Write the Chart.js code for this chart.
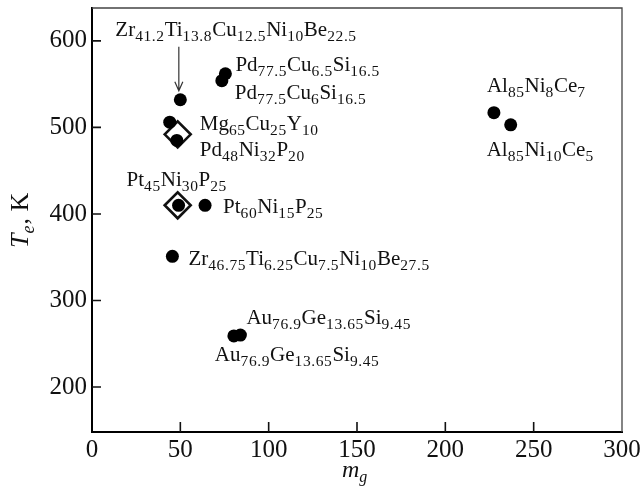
<!DOCTYPE html>
<html>
<head>
<meta charset="utf-8">
<script src="https://cdn.jsdelivr.net/npm/chart.js@4.4.1/dist/chart.umd.min.js"></script>
<style>
  html, body { margin: 0; padding: 0; background: #fff; }
  #wrap { width: 640px; height: 490px; }
</style>
</head>
<body>
<div id="wrap"><canvas id="glassChart" width="640" height="490"></canvas></div>
<script>
// alloys (filled circles): fragility m_g vs T_e
const alloys = [
  'Zr41.2Ti13.8Cu12.5Ni10Be22.5',
  'Pd77.5Cu6.5Si16.5',
  'Pd77.5Cu6Si16.5',
  'Mg65Cu25Y10',
  'Pd48Ni32P20',
  'Pt45Ni30P25',
  'Pt60Ni15P25',
  'Zr46.75Ti6.25Cu7.5Ni10Be27.5',
  'Au76.9Ge13.65Si9.45',
  'Au76.9Ge13.65Si9.45',
  'Al85Ni8Ce7',
  'Al85Ni10Ce5'
];
const massValues = [50, 75.5, 73.5, 44, 48, 49, 64, 45.5, 84, 80.3, 227.5, 237];
const tempValues = [532, 562, 554, 506, 485, 410, 410, 351, 260, 259, 517, 503];

// open diamonds
const diamondMass = [48.5, 48.5];
const diamondTemp = [492, 410];

const xTicks = [0, 50, 100, 150, 200, 250, 300];
const yTicks = [200, 300, 400, 500, 600];

// label placement: pixel offset from the point to the label's left baseline
const labelOffsets = [
  [-65, -64], [10, -3], [13, 18], [30, 8], [23, 16], [-52, -19],
  [18, 8], [16, 9], [6, -11], [-19, 25], [-7, -21], [-24, 31]
];

const serif = "'Liberation Serif', 'Times New Roman', serif";
Chart.defaults.font.family = serif;
Chart.defaults.color = '#111';

function drawFormula(ctx, text, x, y, mainSize, subSize) {
  const parts = text.match(/[A-Z][a-z]?[\d.]*/g);
  let cx = x;
  ctx.textBaseline = 'alphabetic';
  ctx.textAlign = 'left';
  parts.forEach(p => {
    const m = p.match(/([A-Z][a-z]?)([\d.]*)/);
    ctx.font = mainSize + 'px ' + serif;
    ctx.fillText(m[1], cx, y);
    cx += ctx.measureText(m[1]).width;
    if (m[2]) {
      ctx.font = subSize + 'px ' + serif;
      for (const ch of m[2]) {
        ctx.fillText(ch, cx, y + 5);
        cx += ctx.measureText(ch).width + 0.6;
      }
    }
  });
}

const decorations = {
  id: 'decorations',
  afterDraw(chart) {
    const ctx = chart.ctx;
    const xs = chart.scales.x, ys = chart.scales.y;
    const a = chart.chartArea;
    ctx.save();

    // top and right frame
    ctx.strokeStyle = '#444';
    ctx.lineWidth = 1.3;
    ctx.beginPath();
    ctx.moveTo(a.left, a.top);
    ctx.lineTo(a.right, a.top);
    ctx.lineTo(a.right, a.bottom);
    ctx.stroke();

    // inward tick marks
    ctx.strokeStyle = '#111';
    ctx.lineWidth = 1.6;
    ctx.beginPath();
    xTicks.slice(1, -1).forEach(v => {
      const px = xs.getPixelForValue(v);
      ctx.moveTo(px, a.bottom);
      ctx.lineTo(px, a.bottom - 10);
    });
    yTicks.forEach(v => {
      const py = ys.getPixelForValue(v);
      ctx.moveTo(a.left, py);
      ctx.lineTo(a.left + 9, py);
    });
    ctx.stroke();

    // formula labels
    ctx.fillStyle = '#111';
    alloys.forEach((name, i) => {
      const px = xs.getPixelForValue(massValues[i]);
      const py = ys.getPixelForValue(tempValues[i]);
      drawFormula(ctx, name, px + labelOffsets[i][0], py + labelOffsets[i][1], 21, 15.5);
    });

    // arrow to the first alloy
    const ax = xs.getPixelForValue(massValues[0]) - 1.5;
    const ay = ys.getPixelForValue(tempValues[0]);
    ctx.strokeStyle = '#333';
    ctx.lineWidth = 1.2;
    ctx.beginPath();
    ctx.moveTo(ax, ay - 53);
    ctx.lineTo(ax, ay - 9);
    ctx.moveTo(ax - 4, ay - 18);
    ctx.lineTo(ax, ay - 9);
    ctx.lineTo(ax + 4, ay - 18);
    ctx.stroke();

    // y axis title: T_e, K
    ctx.save();
    ctx.translate(28, 248);
    ctx.rotate(-Math.PI / 2);
    ctx.textBaseline = 'alphabetic';
    ctx.textAlign = 'left';
    let tx = 0;
    ctx.font = 'italic 26px ' + serif;
    ctx.fillText('T', tx, 0);
    tx += ctx.measureText('T').width;
    ctx.font = 'italic 18px ' + serif;
    ctx.fillText('e', tx, 6);
    tx += ctx.measureText('e').width + 1;
    ctx.font = '26px ' + serif;
    ctx.fillText(', K', tx, 0);
    ctx.restore();

    // x axis title: m_g
    ctx.font = 'italic 24px ' + serif;
    ctx.textBaseline = 'alphabetic';
    ctx.textAlign = 'left';
    ctx.fillText('m', 342, 477);
    const mw = ctx.measureText('m').width;
    ctx.font = 'italic 16px ' + serif;
    ctx.fillText('g', 342 + mw, 482);

    ctx.restore();
  }
};

new Chart(document.getElementById('glassChart').getContext('2d'), {
  type: 'scatter',
  data: {
    datasets: [
      {
        label: 'open',
        data: diamondMass.map((m, i) => ({ x: m, y: diamondTemp[i] })),
        pointStyle: 'rectRot',
        pointRadius: 13,
        borderColor: '#111',
        borderWidth: 2.6,
        backgroundColor: 'rgba(255,255,255,0)',
        order: 2
      },
      {
        label: 'alloys',
        data: massValues.map((m, i) => ({ x: m, y: tempValues[i] })),
        pointStyle: 'circle',
        pointRadius: 6.5,
        borderWidth: 0,
        backgroundColor: '#000',
        order: 1
      }
    ]
  },
  options: {
    responsive: false,
    animation: false,
    layout: { autoPadding: false, padding: { top: 8, right: 18, left: 0, bottom: 0 } },
    plugins: { legend: { display: false }, tooltip: { enabled: false } },
    scales: {
      x: {
        type: 'linear',
        min: 0,
        max: 300,
        border: { color: '#000', width: 2 },
        grid: { display: false, drawTicks: false },
        ticks: { font: { size: 25 }, padding: 3, color: '#111' },
        afterBuildTicks: s => { s.ticks = xTicks.map(v => ({ value: v })); },
        afterFit: s => { s.height = 58; s.paddingLeft = 0; s.paddingRight = 0; }
      },
      y: {
        type: 'linear',
        min: 148,
        max: 638,
        border: { color: '#000', width: 2 },
        grid: { display: false, drawTicks: false },
        ticks: { font: { size: 25 }, padding: 5, color: '#111' },
        afterBuildTicks: s => { s.ticks = yTicks.map(v => ({ value: v })); },
        afterFit: s => { s.width = 92; s.paddingTop = 0; s.paddingBottom = 0; }
      }
    }
  },
  plugins: [decorations]
});
</script>
</body>
</html>
